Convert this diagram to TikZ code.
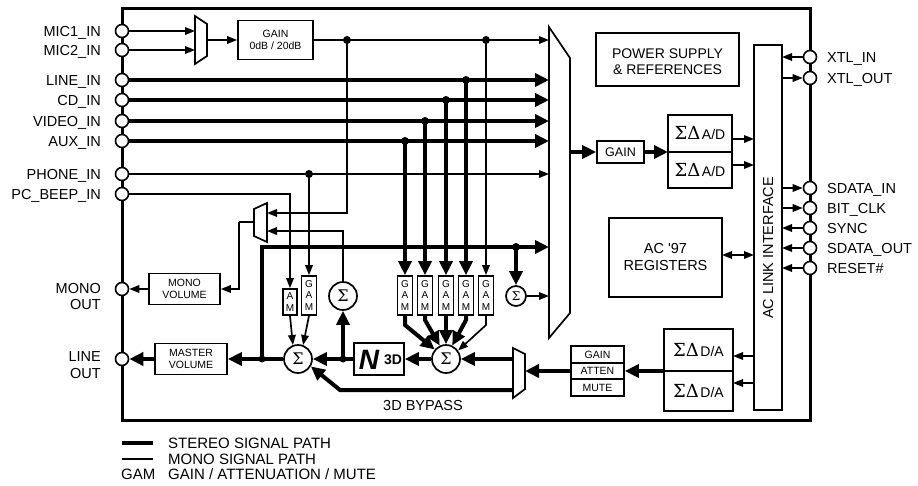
\documentclass[tikz,border=0pt]{standalone}
\usepackage{fontspec}
\setmainfont{Liberation Sans}
\newfontfamily\grkfont{DejaVu Serif}
\usetikzlibrary{arrows.meta}
\newcommand{\sdtxt}[1]{{\grkfont\fontsize{18}{19}\selectfont ΣΔ}\kern1.5pt{\fontsize{14}{15}\selectfont #1}}
\begin{document}
\begin{tikzpicture}[x=1pt,y=-1pt,
  thinl/.style={line width=1.7pt},
  thickl/.style={line width=4pt},
  tha/.style={thinl,-{Triangle[length=10pt,width=7.5pt]}},
  tka/.style={thickl,-{Triangle[length=14pt,width=13pt]}},
  pinc/.style={circle,draw,fill=white,line width=1.6pt,minimum size=13pt,inner sep=0pt},
  jdot/.style={circle,fill,minimum size=8pt,inner sep=0pt},
  blk/.style={draw,line width=1.7pt,fill=white,inner sep=0pt,align=center},
  sigc/.style={circle,draw,line width=1.7pt,fill=white,minimum size=28pt,inner sep=0pt,font=\grkfont\fontsize{16}{16}\selectfont},
  lbl/.style={font=\fontsize{14.5}{17}\selectfont,inner sep=0pt,text height=10.4pt,text depth=0pt},
  sml/.style={font=\fontsize{10.5}{12.5}\selectfont},
  gamf/.style={font=\fontsize{10}{11.5}\selectfont},
  muxs/.style={draw,line width=1.7pt,fill=white,line join=miter},
]
\useasboundingbox (0,0) rectangle (918,485);

% chip outline
\node[draw,line width=3pt,minimum width=688pt,minimum height=412pt,inner sep=0pt] (chip) at (466,214) {};

% left pins
\node[pinc] (mic1) at (122,31) {};
\node[pinc] (mic2) at (122,50) {};
\node[pinc] (linein) at (122,80) {};
\node[pinc] (cdin) at (122,100) {};
\node[pinc] (videoin) at (122,121) {};
\node[pinc] (auxin) at (122,141) {};
\node[pinc] (phonein) at (122,174) {};
\node[pinc] (pcbeep) at (122,194) {};
\node[pinc] (monoout) at (122,289) {};
\node[pinc] (lineout) at (122,359) {};
\node[lbl,anchor=east] (lmic1) at (101,31) {MIC1\_IN};
\node[lbl,anchor=east] (lmic2) at (101,50) {MIC2\_IN};
\node[lbl,anchor=east] (llinein) at (101,80) {LINE\_IN};
\node[lbl,anchor=east] (lcdin) at (101,100) {CD\_IN};
\node[lbl,anchor=east] (lvideoin) at (101,121) {VIDEO\_IN};
\node[lbl,anchor=east] (lauxin) at (101,141) {AUX\_IN};
\node[lbl,anchor=east] (lphonein) at (101,174) {PHONE\_IN};
\node[lbl,anchor=east] (lpcbeep) at (101,194) {PC\_BEEP\_IN};
\node[lbl,anchor=east] (lmono1) at (101,288) {MONO};
\node[lbl,anchor=east] (lmono2) at (101,304) {OUT};
\node[lbl,anchor=east] (lline1) at (101,356.5) {LINE};
\node[lbl,anchor=east] (lline2) at (101,373.5) {OUT};

% right pins
\node[pinc] (xtlin) at (810,57) {};
\node[pinc] (xtlout) at (810,78) {};
\node[pinc] (sdin) at (810,188) {};
\node[pinc] (bclk) at (810,208) {};
\node[pinc] (sync) at (810,228) {};
\node[pinc] (sdout) at (810,248) {};
\node[pinc] (rst) at (810,268) {};
\node[lbl,anchor=west] (lxtlin) at (827,57) {XTL\_IN};
\node[lbl,anchor=west] (lxtlout) at (827,78) {XTL\_OUT};
\node[lbl,anchor=west] (lsdin) at (827,188) {SDATA\_IN};
\node[lbl,anchor=west] (lbclk) at (827,208) {BIT\_CLK};
\node[lbl,anchor=west] (lsync) at (827,228) {SYNC};
\node[lbl,anchor=west] (lsdout) at (827,248) {SDATA\_OUT};
\node[lbl,anchor=west] (lrst) at (827,268) {RESET\#};

% muxes
\draw[muxs] (195,16) -- (207,24) -- (207,56) -- (195,64) -- cycle;
\coordinate (mmI1) at (195,31);
\coordinate (mmI2) at (195,50);
\coordinate (mmO) at (207,40);
\draw[muxs] (267,203) -- (267,242) -- (254,236) -- (254,209) -- cycle;
\coordinate (mxI1) at (267,213);
\coordinate (mxI2) at (267,231);
\coordinate (mxO) at (254,222);
\coordinate (mxB) at (239,222);
\draw[muxs] (549,27) -- (570,58) -- (570,313) -- (549,338) -- cycle;
\coordinate (bmG) at (549,40);
\coordinate (bmL) at (549,80);
\coordinate (bmC) at (549,100);
\coordinate (bmV) at (549,121);
\coordinate (bmA) at (549,141);
\coordinate (bmP) at (549,174);
\coordinate (bmS) at (549,247);
\coordinate (bmM) at (549,296);
\coordinate (bmO) at (570,152);
\draw[muxs] (513,348) -- (525,354) -- (525,389) -- (513,398) -- cycle;
\coordinate (dmI) at (525,371);
\coordinate (dmO1) at (513,359);
\coordinate (dmO2) at (513,390);
\coordinate (bp) at (340,390);

% blocks
\node[blk,sml,minimum width=75pt,minimum height=39pt] (mgain) at (275.5,40) {GAIN\\0dB / 20dB};
\node[blk,minimum width=143pt,minimum height=53pt] (psu) at (667.5,59.5) {};
\node[font=\fontsize{14}{16}\selectfont,align=center,inner sep=0pt] (psut) at (667.5,62) {POWER SUPPLY\\\& REFERENCES};
\node[blk,font=\fontsize{12.5}{14}\selectfont,minimum width=47pt,minimum height=22pt] (adcgain) at (620.5,152) {GAIN};
\node[blk,minimum width=64pt,minimum height=37pt] (ad1) at (700,133.5) {\sdtxt{A/D}};
\node[blk,minimum width=64pt,minimum height=36pt] (ad2) at (700,170) {\sdtxt{A/D}};
\node[blk,minimum width=28pt,minimum height=365pt] (aclink) at (768,227.5) {};
\node[lbl,rotate=90] (aclt) at (768,248) {AC LINK INTERFACE};
\node[blk,font=\fontsize{14.5}{17}\selectfont,minimum width=113pt,minimum height=79pt] (regs) at (665.5,257.5) {AC \textquotesingle 97\\REGISTERS};
\node[blk,minimum width=69pt,minimum height=42pt] (da1) at (698.5,350) {\sdtxt{D/A}};
\node[blk,minimum width=69pt,minimum height=40pt] (da2) at (698.5,391) {\sdtxt{D/A}};
\node[blk,sml,minimum width=53pt,minimum height=17pt] (gainr) at (597.5,354.5) {GAIN};
\node[blk,sml,minimum width=53pt,minimum height=16pt] (atten) at (597.5,371) {ATTEN};
\node[blk,sml,minimum width=53pt,minimum height=17pt] (mute) at (597.5,387.5) {MUTE};
\node[blk,sml,minimum width=71pt,minimum height=31pt] (monovol) at (184.5,289) {MONO\\VOLUME};
\node[blk,sml,minimum width=72pt,minimum height=31pt] (mastervol) at (191,359) {MASTER\\VOLUME};
\node[blk,minimum width=50pt,minimum height=32pt] (b3d) at (379,359) {};
\node[font=\fontsize{28}{28}\selectfont\bfseries\itshape,inner sep=0pt] (logo) at (369,360) {N};
\node[font=\fontsize{14}{14}\selectfont\bfseries,inner sep=0pt] (l3d) at (393,360) {3D};
\node[blk,gamf,minimum width=14pt,minimum height=26pt] (amL) at (290,302) {A\\M};
\node[blk,gamf,minimum width=15pt,minimum height=39pt] (gamL) at (309,295.5) {G\\A\\M};
\node[blk,gamf,minimum width=15pt,minimum height=39pt] (gam1) at (405,295.5) {G\\A\\M};
\node[blk,gamf,minimum width=15pt,minimum height=39pt] (gam2) at (425,295.5) {G\\A\\M};
\node[blk,gamf,minimum width=15pt,minimum height=39pt] (gam3) at (446,295.5) {G\\A\\M};
\node[blk,gamf,minimum width=15pt,minimum height=39pt] (gam4) at (466,295.5) {G\\A\\M};
\node[blk,gamf,minimum width=15pt,minimum height=39pt] (gam5) at (486,295.5) {G\\A\\M};
\node[sigc] (sigL) at (298,359) {Σ};
\node[sigc] (sigR) at (446,359) {Σ};
\node[sigc] (sigM) at (343,296) {Σ};
\node[sigc,minimum size=20pt,font=\grkfont\fontsize{12}{12}\selectfont] (sigS) at (516,296) {Σ};
\node[lbl] (lbyp) at (423,405) {3D BYPASS};

% junction dots
\node[jdot] (dg1) at (347,40) {};
\node[jdot] (dg2) at (486,40) {};
\node[jdot] (dl) at (466,80) {};
\node[jdot] (dc) at (446,100) {};
\node[jdot] (dv) at (425,121) {};
\node[jdot] (da) at (405,141) {};
\node[jdot] (dp) at (309,174) {};
\node[jdot,minimum size=7pt] (ds1) at (262,359) {};
\node[jdot] (ds2) at (516,247) {};
\node[jdot,minimum size=7pt] (d3) at (343,359) {};

% coordinates on block edges
\coordinate (sc) at (262,247);
\coordinate (adIn) at (668,152);
\coordinate (ad1R) at (732,139);
\coordinate (ad2R) at (732,165);
\coordinate (acA1) at (754,139);
\coordinate (acA2) at (754,165);
\coordinate (rgR) at (722,255);
\coordinate (acR) at (754,255);
\coordinate (acD1) at (754,356);
\coordinate (acD2) at (754,383);
\coordinate (daR1) at (733,356);
\coordinate (daR2) at (733,383);
\coordinate (daL) at (664,371);
\coordinate (acX1) at (782,57);
\coordinate (acX2) at (782,78);
\coordinate (acS1) at (782,188);
\coordinate (acS2) at (782,208);
\coordinate (acS3) at (782,228);
\coordinate (acS4) at (782,248);
\coordinate (acS5) at (782,268);
\coordinate (g1b) at (405,325);
\coordinate (g2b) at (425,320);
\coordinate (g4b) at (466,320);
\coordinate (g5b) at (486,325);

% mic path
\draw[tha] (mic1) -- (mmI1);
\draw[tha] (mic2) -- (mmI2);
\draw[tha] (mmO) -- (mgain);
\draw[tha] (mgain) -- (bmG);
% stereo inputs
\draw[tka] (linein) -- (bmL);
\draw[tka] (cdin) -- (bmC);
\draw[tka] (videoin) -- (bmV);
\draw[tka] (auxin) -- (bmA);
\draw[tha] (phonein) -- (bmP);
% taps to GAM
\draw[tka] (da.center) -- (gam1.north);
\draw[tka] (dv.center) -- (gam2.north);
\draw[tka] (dc.center) -- (gam3.north);
\draw[tka] (dl.center) -- (gam4.north);
\draw[tha] (dg2.center) -- (gam5.north);
\draw[tha] (dp.center) -- (gamL.north);
\draw[tha] (pcbeep) -| (amL.north);
% mono mux
\draw[tha] (dg1.center) |- (mxI1);
\draw[tha] (sigM.north) |- (mxI2);
\draw[thinl] (mxO) -- (mxB);
\draw[tha] (mxB) |- (monovol.east);
\draw[tha] (monovol) -- (monoout);
% GAM to mixers
\draw[tka] (gam1.south) -- (g1b) -- (sigR.140);
\draw[tka] (gam2.south) -- (g2b) -- (sigR.115);
\draw[tka] (gam3.south) -- (sigR.north);
\draw[tka] (gam4.south) -- (g4b) -- (sigR.65);
\draw[tha] (gam5.south) -- (g5b) -- (sigR.35);
\draw[tha] (amL.south) -- (sigL.110);
\draw[tha] (gamL.south) -- (sigL.70);
% stereo mix path
\draw[tka] (sigL) -- (mastervol);
\draw[tka] (mastervol) -- (lineout);
\draw[tka] (ds1.center) -- (sc) -- (bmS);
\draw[tka] (ds2.center) -- (sigS);
\draw[tha] (sigS) -- (bmM);
\draw[tka] (b3d) -- (sigL);
\draw[tka] (d3.center) -- (sigM);
\draw[tka] (sigR) -- (b3d);
\draw[tka] (dmO1) -- (sigR);
\draw[tka] (dmO2) -- (bp) -- (sigL.-30);
\draw[tka] (atten) -- (dmI);
\draw[tka] (daL) -- (atten);
% ADC path
\draw[tka] (bmO) -- (adcgain);
\draw[tka] (adcgain) -- (adIn);
\draw[tha] (ad1R) -- (acA1);
\draw[tha] (ad2R) -- (acA2);
\draw[tha] (acD1) -- (daR1);
\draw[tha] (acD2) -- (daR2);
\draw[thinl,{Triangle[length=10pt,width=7.5pt]}-{Triangle[length=10pt,width=7.5pt]}] (rgR) -- (acR);
% AC link pins
\draw[tha] (xtlin) -- (acX1);
\draw[tha] (acX2) -- (xtlout);
\draw[tha] (acS1) -- (sdin);
\draw[tha] (acS2) -- (bclk);
\draw[tha] (sync) -- (acS3);
\draw[tha] (sdout) -- (acS4);
\draw[tha] (rst) -- (acS5);

% legend
\coordinate (lg1a) at (122,443);
\coordinate (lg1b) at (153,443);
\coordinate (lg2a) at (122,459);
\coordinate (lg2b) at (153,459);
\draw[thickl] (lg1a) -- (lg1b);
\draw[thinl] (lg2a) -- (lg2b);
\node[lbl,font=\fontsize{15}{17}\selectfont,anchor=west] (lg1t) at (168,443) {STEREO SIGNAL PATH};
\node[lbl,font=\fontsize{15}{17}\selectfont,anchor=west] (lg2t) at (168,459) {MONO SIGNAL PATH};
\node[lbl,font=\fontsize{15}{17}\selectfont,anchor=west] (lg3a) at (121,474) {GAM};
\node[lbl,font=\fontsize{15}{17}\selectfont,anchor=west] (lg3t) at (168,474) {GAIN / ATTENUATION / MUTE};
\end{tikzpicture}
\end{document}
